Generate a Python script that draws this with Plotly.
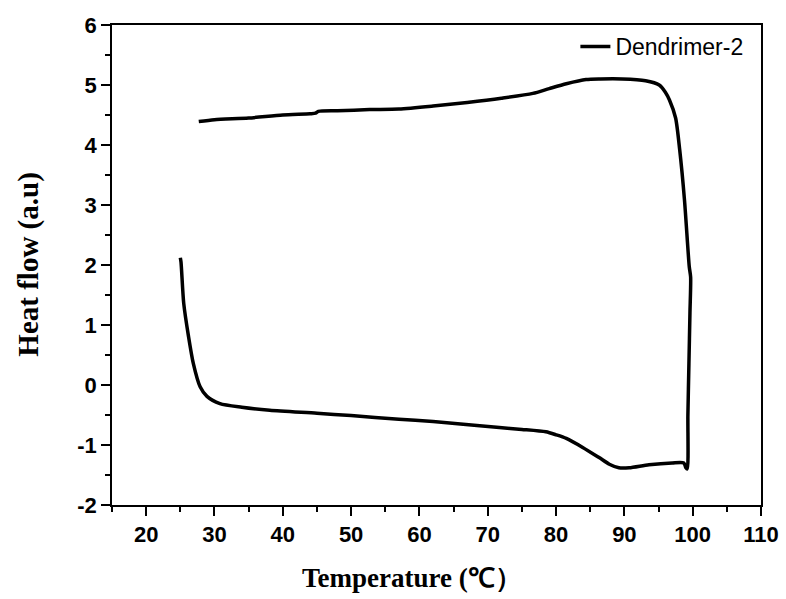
import plotly.graph_objects as go

# Lower (heating) branch, left -> right
lower_T = [25.0, 25.1, 25.5, 26.2, 26.9, 27.9, 28.9, 30.8, 34.0, 38.1, 45.0, 50.0, 57.0, 62.0,
           66.0, 71.7, 75.0, 78.5, 80.0, 81.5, 83.9, 86.3, 87.8, 89.2, 90.7, 93.6, 97.0, 98.7, 99.0, 99.2]
lower_H = [2.12, 2.05, 1.36, 0.81, 0.36, -0.03, -0.19, -0.31, -0.37, -0.42, -0.47, -0.51, -0.57, -0.61,
           -0.65, -0.71, -0.74, -0.78, -0.83, -0.89, -1.04, -1.21, -1.32, -1.38, -1.38, -1.33, -1.30, -1.30, -1.38, -1.40]

# Right side going up
side_T = [99.3, 99.45, 99.6, 99.7]
side_H = [-0.5, 0.36, 1.2, 1.8]

# Upper (cooling) branch, right -> left
upper_T = [99.5, 98.8, 98.1, 97.5, 96.6, 96.0, 95.1, 93.1, 89.7, 86.5, 84.4, 81.5, 79.0, 76.6,
           72.0, 67.0, 62.0, 57.0, 52.7, 48.0, 45.2, 44.8, 44.0, 40.0, 35.0, 30.0, 27.7]
upper_H = [1.97, 3.08, 3.92, 4.45, 4.75, 4.88, 5.00, 5.07, 5.10, 5.10, 5.09, 5.02, 4.94, 4.86,
           4.78, 4.71, 4.65, 4.60, 4.59, 4.57, 4.56, 4.53, 4.52, 4.50, 4.45, 4.42, 4.39]

x_ticks = [20, 30, 40, 50, 60, 70, 80, 90, 100, 110]
y_ticks = [-2, -1, 0, 1, 2, 3, 4, 5, 6]

T = lower_T + side_T + upper_T
H = lower_H + side_H + upper_H

fig = go.Figure()
fig.add_trace(go.Scatter(x=T, y=H, mode="lines", name="Dendrimer-2",
                         line=dict(color="black", width=3.5, shape="spline", smoothing=0.7)))

tickfont = dict(family="Liberation Sans, Arial", size=22, color="black", weight="bold")
xtitlefont = dict(family="Liberation Serif, Times New Roman", size=27, color="black", weight="bold")
ytitlefont = dict(family="Liberation Serif, Times New Roman", size=29, color="black", weight="bold")

fig.update_layout(
    width=786, height=599,
    margin=dict(l=112, r=25, t=25, b=94, autoexpand=False),
    plot_bgcolor="white", paper_bgcolor="white",
    showlegend=True,
    legend=dict(x=0.714, y=1.0, xanchor="left", yanchor="top",
                font=dict(family="Liberation Sans, Arial", size=23, color="black"),
                bgcolor="rgba(0,0,0,0)", borderwidth=0),
    annotations=[
        dict(text="Temperature (℃）", xref="paper", yref="paper", x=0.463, y=-0.152,
             xanchor="center", yanchor="middle", showarrow=False, font=xtitlefont),
        dict(text="Heat flow (a.u)", xref="paper", yref="paper", x=-0.13, y=0.5,
             xanchor="center", yanchor="middle", showarrow=False, textangle=-90, font=ytitlefont),
    ],
)
fig.update_xaxes(
    range=[15, 110], tickvals=x_ticks, ticktext=[str(v) for v in x_ticks],
    showline=True, linecolor="black", linewidth=1.5, mirror=True,
    ticks="outside", ticklen=9, tickwidth=1.5, tickcolor="black",
    minor=dict(dtick=5, tick0=15, ticks="outside", ticklen=5, tickwidth=1.5, tickcolor="black"),
    showgrid=False, zeroline=False, tickfont=tickfont, automargin=False,
)
fig.update_yaxes(
    range=[-2, 6], tickvals=y_ticks, ticktext=[str(v) for v in y_ticks],
    showline=True, linecolor="black", linewidth=1.5, mirror=True,
    ticks="outside", ticklen=9, tickwidth=1.5, tickcolor="black",
    minor=dict(dtick=0.5, tick0=-2, ticks="outside", ticklen=5, tickwidth=1.5, tickcolor="black"),
    showgrid=False, zeroline=False, tickfont=tickfont, automargin=False,
)

fig.write_html("out.html", config={"displayModeBar": False},
               post_script="document.body.style.margin='0';")
